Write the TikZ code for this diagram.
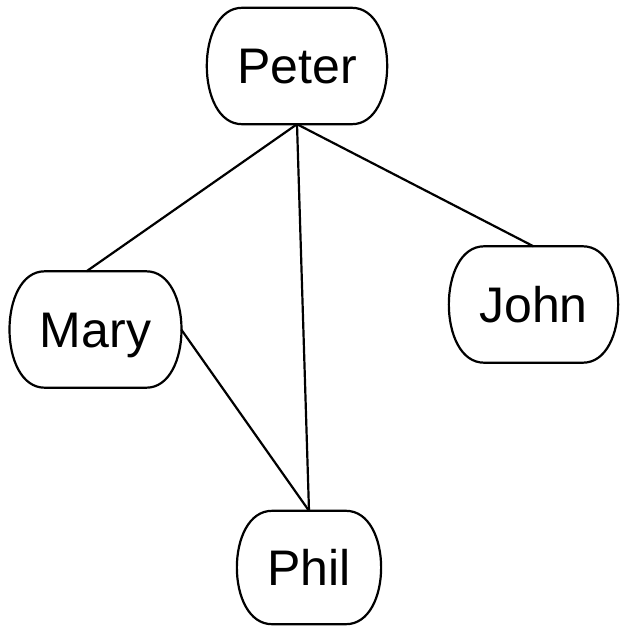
\documentclass[tikz,border=0pt]{standalone}
\usepackage{fontspec}
\setmainfont{Liberation Sans}
\tikzset{
  person/.style={draw=none, inner xsep=30pt, inner ysep=0pt, minimum height=116pt,
    text height=36pt, text depth=0pt, font=\fontsize{50}{50}\selectfont},
  outline/.style={line width=2.2pt, line join=round},
  link/.style={line width=2.2pt}
}
\newcommand\personbox[1]{%
  \draw[outline] ([xshift=35pt]#1.north west) -- ([xshift=-35pt]#1.north east)
    .. controls ([xshift=12pt]#1.north east) and ([xshift=12pt]#1.south east) .. ([xshift=-35pt]#1.south east)
    -- ([xshift=35pt]#1.south west)
    .. controls ([xshift=-12pt]#1.south west) and ([xshift=-12pt]#1.north west) .. cycle;}
\begin{document}
\begin{tikzpicture}[x=1pt,y=1pt]
\useasboundingbox (0,0) rectangle (624,-626);
\node[person] (peter) at (297,-66) {Peter};
\node[person] (mary) at (95.5,-329.5) {Mary};
\node[person, minimum width=163pt] (john) at (533.5,-304.5) {John};
\node[person, minimum height=113pt] (phil) at (309,-567.5) {Phil};
\personbox{peter}
\personbox{mary}
\personbox{john}
\personbox{phil}
\draw[link] (peter.south) -- ([xshift=-9pt]mary.north);
\draw[link] (peter.south) -- (john.north);
\draw[link] (peter.south) -- (phil.north);
\draw[link] (mary.east) -- (phil.north);
\end{tikzpicture}
\end{document}
